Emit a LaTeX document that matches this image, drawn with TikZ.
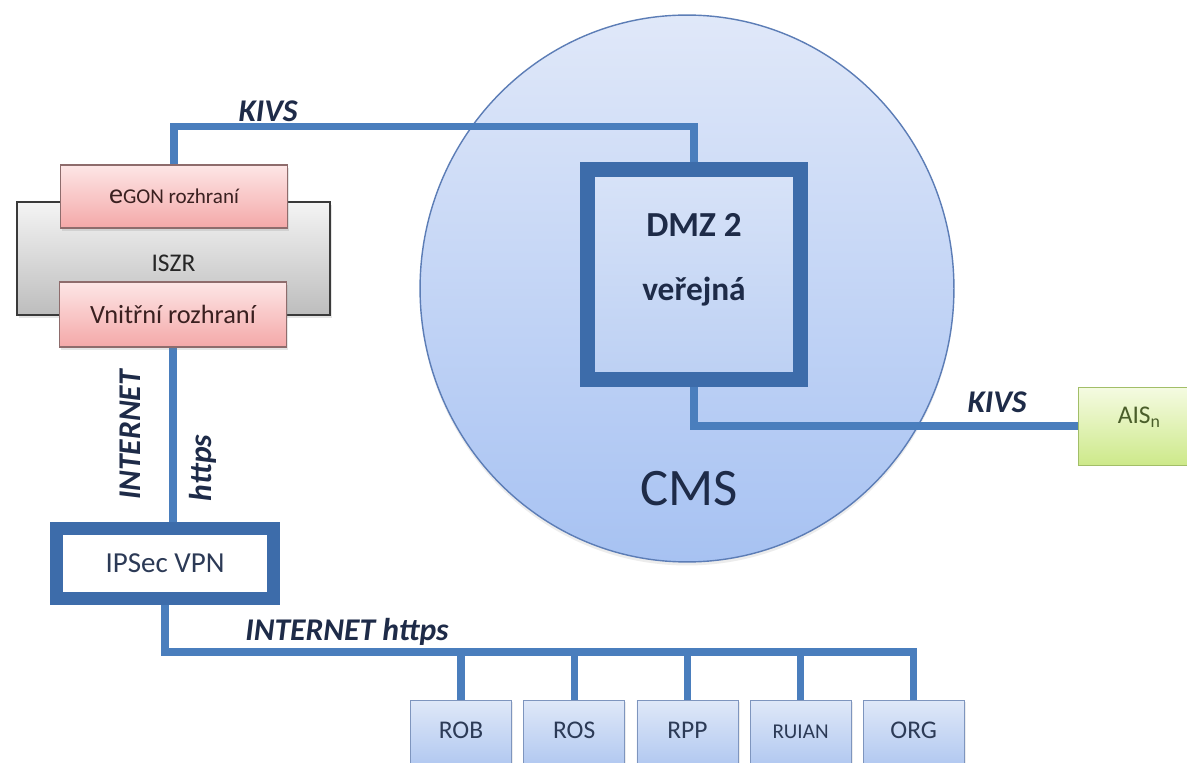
\documentclass[tikz,border=0pt]{standalone}
\usepackage{fontspec}
\setmainfont{Carlito}
\usetikzlibrary{positioning,chains,shapes.geometric,shadows}
\pgfdeclarelayer{back}
\pgfdeclarelayer{wires}
\pgfsetlayers{back,wires,main}
\definecolor{wireblue}{HTML}{4A7EBD}
\definecolor{frameblue}{HTML}{3D6CAA}
\definecolor{navy}{HTML}{1E2B48}
\definecolor{cmstop}{HTML}{E0E8F9}
\definecolor{cmsbot}{HTML}{A7C2F2}
\definecolor{cmsline}{HTML}{5C7DB6}
\definecolor{dmztop}{HTML}{D8E3F8}
\definecolor{dmzbot}{HTML}{BCD0F3}
\definecolor{pinktop}{HTML}{FDE6E6}
\definecolor{pinkbot}{HTML}{F4A8A8}
\definecolor{pinkline}{HTML}{8E6C6C}
\definecolor{pinktext}{HTML}{3A2020}
\definecolor{iszrtop}{HTML}{F4F4F4}
\definecolor{iszrbot}{HTML}{BDBDBD}
\definecolor{iszrline}{HTML}{3A3A3A}
\definecolor{regtop}{HTML}{DFE8F8}
\definecolor{regbot}{HTML}{AAC3EF}
\definecolor{regline}{HTML}{7E95BE}
\definecolor{regtext}{HTML}{2C3A56}
\definecolor{aistop}{HTML}{F5FBE2}
\definecolor{aisbot}{HTML}{CDE98A}
\definecolor{aisline}{HTML}{A2BE68}
\definecolor{aistext}{HTML}{4A5E2A}

\begin{document}
\begin{tikzpicture}[x=0.02cm,y=-0.02cm,
    wire/.style={
        draw=wireblue,
        line width=4pt,
        line join=miter
    },
    tag/.style={
        font=\fontsize{18}{20}\selectfont\bfseries\itshape,
        text=navy
    },
    pinkbox/.style={
        draw=pinkline,
        line width=0.8pt,
        top color=pinktop,
        bottom color=pinkbot,
        text=pinktext,
        minimum width=4.54cm,
        drop shadow={opacity=0.2,shadow xshift=1pt,shadow yshift=-1.5pt}
    },
    regbox/.style={
        draw=regline,
        top color=regtop,
        bottom color=regbot,
        text=regtext,
        minimum width=2.02cm,
        minimum height=1.52cm,
        text height=6pt,
        text depth=6pt,
        font=\fontsize{14.5}{16}\selectfont,
        drop shadow={opacity=0.15,shadow xshift=1pt,shadow yshift=-1pt},
        on chain
    },
    start chain=regs going right,node distance=0.23cm
    ]
    \useasboundingbox (0,0) rectangle (1187,763);

    \begin{pgfonlayer}{back}
    \fill[white] (0,0) rectangle (1187,763);
    \node[ellipse,draw=cmsline,line width=0.8pt,top color=cmstop,bottom color=cmsbot,
        minimum width=10.68cm,minimum height=10.94cm,
        drop shadow={opacity=0.15,shadow xshift=0pt,shadow yshift=-2pt}]
        (cms) at (687,288.5) {};
    \end{pgfonlayer}
    \node[font=\fontsize{30}{32}\selectfont,text=navy] (cmstext) at (689,489) {CMS};

    % DMZ
    \node[draw=frameblue,line width=0.3cm,top color=dmztop,bottom color=dmzbot,
        minimum width=4.26cm,minimum height=4.2cm] (dmz) at (694,274.5) {};
    \node[font=\fontsize{20}{22}\selectfont\bfseries,text=navy] (dmzname) at (694,225) {DMZ 2};
    \node[font=\fontsize{19}{22}\selectfont\bfseries,text=navy] (dmzkind) at (694,292) {veřejná};

    % ISZR
    \node[draw=iszrline,line width=1pt,top color=iszrtop,bottom color=iszrbot,
        minimum width=6.26cm,minimum height=2.26cm,text height=15pt,text depth=0pt,
        font=\fontsize{14.5}{16}\selectfont,text=black!85,
        drop shadow={opacity=0.2,shadow xshift=1pt,shadow yshift=-1.5pt}]
        (iszr) at (173.5,258.5) {ISZR};
    \node[pinkbox,minimum height=1.26cm,font=\fontsize{12}{14}\selectfont]
        (egon) at (174,196.5) {{\fontsize{16}{16}\selectfont e}GON rozhraní};
    \node[pinkbox,minimum height=1.3cm,font=\fontsize{15}{17}\selectfont]
        (vnitrni) at (173,314.5) {Vnitřní rozhraní};

    % VPN
    \node[draw=frameblue,line width=0.26cm,fill=white,minimum width=4.34cm,minimum height=1.4cm,
        font=\fontsize{16.5}{18}\selectfont,text=regtext] (vpn) at (165,563.5) {IPSec VPN};

    % AIS
    \node[draw=aisline,top color=aistop,bottom color=aisbot,anchor=west,
        minimum width=2.44cm,minimum height=1.56cm,text height=6pt,text depth=9pt,
        font=\fontsize{14.5}{16}\selectfont,text=aistext] (ais) at (1078,426) {AIS\textsubscript{n}};

    % registry boxes
    \node[regbox] (rob) at (461,738) {ROB};
    \node[regbox] (ros) {ROS};
    \node[regbox] (rpp) {RPP};
    \node[regbox,font=\fontsize{12}{14}\selectfont] (ruian) {RUIAN};
    \node[regbox] (org) {ORG};

    \coordinate (bus) at (0,652);

    \begin{pgfonlayer}{wires}
    \draw[wire] (egon.north) -- ++(0,-38) -| (dmz.north);
    \draw[wire] (dmz.south) |- (ais.west);
    \draw[wire] (vnitrni.south) -- (vnitrni.south |- vpn.north);
    \draw[wire] (vpn.south) |- (org.north |- bus) -- (org.north);
    \foreach \r in {rob,ros,rpp,ruian}
        \draw[wire] (\r.north) -- (\r.north |- bus);
    \end{pgfonlayer}

    % labels
    \node[tag] (kivsa) at (268,111) {KIVS};
    \node[tag] (kivsb) at (997,402) {KIVS};
    \node[tag,rotate=90] (inetv) at (130,435) {INTERNET};
    \node[tag,rotate=90] (httpsv) at (203,468) {https};
    \node[tag] (ineth) at (347,632) {INTERNET https};
\end{tikzpicture}
\end{document}
